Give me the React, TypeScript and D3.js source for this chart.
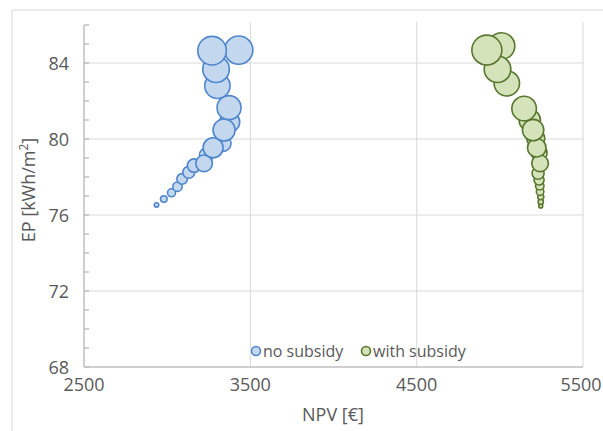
import React from "react";
import * as d3 from "d3";

const seriesNames = ["no subsidy", "with subsidy"];

const npvNoSubsidy = [3270, 3430, 3294, 3302, 3372, 3376, 3342, 3336, 3276, 3236, 3222, 3162, 3130, 3090, 3062, 3026, 2980, 2936];
const epNoSubsidy = [84.65, 84.68, 83.67, 82.8, 81.65, 80.9, 80.47, 79.77, 79.54, 79.16, 78.72, 78.6, 78.25, 77.9, 77.49, 77.17, 76.84, 76.53];
const sizeNoSubsidy = [204, 200, 177, 161, 144, 100, 121, 64, 100, 49, 69, 45, 36, 28, 22, 16, 11, 5];

const npvWithSubsidy = [4922, 5010, 4986, 5042, 5146, 5180, 5200, 5216, 5222, 5236, 5242, 5230, 5236, 5240, 5242, 5246, 5246, 5246];
const epWithSubsidy = [84.68, 84.89, 83.67, 82.93, 81.6, 80.99, 80.47, 80.03, 79.54, 79.26, 78.72, 78.2, 77.84, 77.54, 77.23, 76.96, 76.7, 76.48];
const sizeWithSubsidy = [225, 177, 177, 161, 151, 114, 114, 81, 86, 64, 69, 36, 25, 18, 14, 9, 7, 4];

const xTicks = [2500, 3500, 4500, 5500];
const yTicks = [68, 72, 76, 80, 84];

const W = 603;
const H = 431;
const FONT = "'Open Sans', sans-serif";

export default function App() {
  const x = d3.scaleLinear().domain([2500, 5500]).range([84, 583]);
  const y = d3.scaleLinear().domain([68, 86]).range([367, 25]);
  const r = d3.scaleSqrt().domain([0, 225]).range([0, 15]);
  const minorTicks = d3.range(68, 87, 1);

  const series = [
    { name: seriesNames[0], npv: npvNoSubsidy, ep: epNoSubsidy, size: sizeNoSubsidy, fill: "#c3d7ef", stroke: "#4f86cc" },
    { name: seriesNames[1], npv: npvWithSubsidy, ep: epWithSubsidy, size: sizeWithSubsidy, fill: "#d5e3bb", stroke: "#58772e" },
  ];

  return (
    <svg width={W} height={H} style={{ position: "absolute", left: 0, top: 0, background: "#fff" }}>
      <rect x={12} y={10} width={600} height={440} fill="#fff" stroke="#d9d9d9" strokeWidth={1} />
      {/* gridlines */}
      {yTicks.filter((t) => t !== 68).map((t) => (
        <line key={"gy" + t} x1={x(2500)} x2={x(5500)} y1={y(t)} y2={y(t)} stroke="#d9d9d9" strokeWidth={1} />
      ))}
      {xTicks.filter((t) => t !== 2500).map((t) => (
        <line key={"gx" + t} x1={x(t)} x2={x(t)} y1={y(86) - 3} y2={y(68)} stroke="#d9d9d9" strokeWidth={1} />
      ))}
      {/* axes */}
      <line x1={x(2500)} x2={x(5500)} y1={y(68)} y2={y(68)} stroke="#bfbfbf" strokeWidth={1.5} />
      <line x1={x(2500)} x2={x(2500)} y1={y(86)} y2={y(68)} stroke="#bfbfbf" strokeWidth={1.5} />
      {minorTicks.map((t) => (
        <line key={"mt" + t} x1={x(2500)} x2={x(2500) + 5} y1={y(t)} y2={y(t)} stroke="#bfbfbf" strokeWidth={1.5} />
      ))}
      {/* tick labels */}
      {yTicks.map((t) => (
        <text key={"yl" + t} x={69} y={y(t) + 6.5} textAnchor="end" fontFamily={FONT} fontSize={18} fill="#595959">{t}</text>
      ))}
      {xTicks.map((t, i) => (
        <text key={"xl" + t} x={i === xTicks.length - 1 ? x(t) - 2 : x(t)} y={391} textAnchor="middle" fontFamily={FONT} fontSize={18} fill="#595959">{t}</text>
      ))}
      {/* axis titles */}
      <text x={333} y={421} textAnchor="middle" fontFamily={FONT} fontSize={18} fill="#595959">NPV [€]</text>
      <text transform={`translate(35,${190}) rotate(-90)`} textAnchor="middle" fontFamily={FONT} fontSize={18} fill="#595959">
        EP [kWh/m<tspan dy={-7} fontSize={12}>2</tspan><tspan dy={7}>]</tspan>
      </text>
      {/* bubbles */}
      {series.map((s) => {
        const idx = d3.range(s.npv.length).sort((a, b) => s.size[a] - s.size[b]);
        return (
          <g key={s.name}>
            {idx.map((i) => (
              <circle key={i} cx={x(s.npv[i])} cy={y(s.ep[i])} r={r(s.size[i])} fill={s.fill} stroke={s.stroke} strokeWidth={1.6} />
            ))}
          </g>
        );
      })}
      {/* legend */}
      {series.map((s, i) => {
        const lx = i === 0 ? 256 : 366;
        return (
          <g key={"lg" + s.name}>
            <circle cx={lx} cy={351} r={4.5} fill={s.fill} stroke={s.stroke} strokeWidth={1.6} />
            <text x={lx + 7} y={357} fontFamily={FONT} fontSize={16} fill="#595959">{s.name}</text>
          </g>
        );
      })}
    </svg>
  );
}
